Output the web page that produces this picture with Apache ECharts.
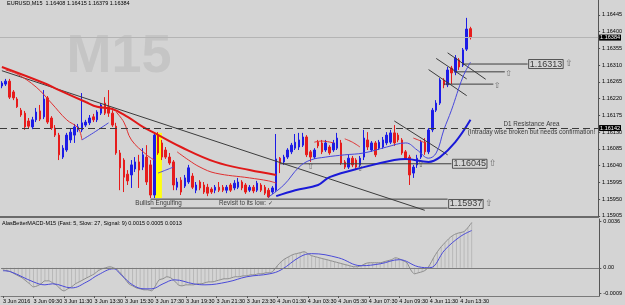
<!DOCTYPE html>
<html><head><meta charset="utf-8">
<script src="https://cdn.jsdelivr.net/npm/echarts@6/dist/echarts.min.js"></script>
<style>html,body{margin:0;padding:0;background:#d4d4d4}#c{width:625px;height:305px}</style>
</head><body><div id="c"></div>
<script>
// ---------- DATA ----------
const barCount = 157; // visible slots incl. right shift
const timeLabels = ["3 Jun 2016","3 Jun 09:30","3 Jun 11:30","3 Jun 13:30","3 Jun 15:30","3 Jun 17:30","3 Jun 19:30","3 Jun 21:30","3 Jun 23:30","4 Jun 01:30","4 Jun 03:30","4 Jun 05:30","4 Jun 07:30","4 Jun 09:30","4 Jun 11:30","4 Jun 13:30"];
const priceTicks = [1.16445,1.16400,1.16355,1.16310,1.16265,1.16220,1.16175,1.16130,1.16085,1.16040,1.15995,1.15950,1.15905];
const macdTickValues = [0.0036, 0, -0.0020];
const macdTickLabels = ["0.0036", "0.00", "-0.0009"];
const headerText = "EURUSD,M15  1.16408 1.16415 1.16379 1.16384";
const macdHeaderText = "AlasBetterMACD-M15 (Fast: 5, Slow: 27, Signal: 9) 0.0015 0.0005 0.0013";
const watermark = "M15";

// [open, close, low, high]
const candles = [
[1.16254,1.16262,1.16248,1.16267],[1.16259,1.16267,1.16254,1.16273],[1.16267,1.16224,1.16219,1.16273],[1.16238,1.16222,1.16216,1.16243],
[1.16219,1.16198,1.16195,1.16224],[1.16189,1.16176,1.16171,1.16195],[1.16181,1.16144,1.16136,1.16187],[1.16160,1.16146,1.16141,1.16168],
[1.16144,1.16163,1.16138,1.16171],[1.16163,1.16184,1.16157,1.16195],[1.16187,1.16165,1.16160,1.16203],[1.16171,1.16219,1.16165,1.16243],
[1.16222,1.16157,1.16152,1.16227],[1.16168,1.16141,1.16136,1.16173],[1.16141,1.16122,1.16117,1.16149],[1.16122,1.16069,1.16055,1.16128],
[1.16063,1.16087,1.16058,1.16095],[1.16082,1.16122,1.16077,1.16128],[1.16109,1.16130,1.16101,1.16141],[1.16122,1.16144,1.16101,1.16152],
[1.16136,1.16144,1.16130,1.16152],[1.16136,1.16155,1.16130,1.16235],[1.16149,1.16157,1.16144,1.16163],[1.16155,1.16168,1.16149,1.16176],
[1.16171,1.16163,1.16157,1.16179],[1.16163,1.16184,1.16157,1.16189],[1.16181,1.16203,1.16176,1.16208],[1.16208,1.16181,1.16176,1.16224],
[1.16198,1.16181,1.16171,1.16243],[1.16181,1.16149,1.16144,1.16189],[1.16146,1.16074,1.16069,1.16155],[1.16074,1.16034,1.15974,1.16082],
[1.16055,1.16009,1.15969,1.16060],[1.16017,1.15999,1.15988,1.16028],[1.16015,1.16042,1.15980,1.16055],[1.16031,1.16050,1.16023,1.16063],
[1.16050,1.16028,1.15980,1.16069],[1.16036,1.16069,1.16028,1.16087],[1.16063,1.15996,1.15988,1.16095],[1.16042,1.15961,1.15953,1.16055],
[1.15961,1.16122,1.15953,1.16128],[1.16122,1.16074,1.16069,1.16130],[1.16101,1.16063,1.16055,1.16109],[1.16082,1.16063,1.16058,1.16090],
[1.16063,1.16047,1.16042,1.16074],[1.16050,1.15988,1.15974,1.16055],[1.15982,1.15996,1.15974,1.16007],[1.16001,1.15969,1.15961,1.16009],
[1.15985,1.16007,1.15980,1.16015],[1.15996,1.16034,1.15991,1.16042],[1.16012,1.15982,1.15977,1.16020],[1.15974,1.15988,1.15966,1.15996],
[1.15996,1.15980,1.15974,1.16001],[1.15988,1.15969,1.15964,1.15996],[1.15982,1.15966,1.15958,1.15991],[1.15977,1.15969,1.15964,1.15982],
[1.15974,1.15982,1.15966,1.15988],[1.15982,1.15974,1.15969,1.15996],[1.15982,1.15974,1.15969,1.15988],[1.15974,1.15982,1.15966,1.15988],
[1.15988,1.15974,1.15969,1.15993],[1.15980,1.15993,1.15974,1.16001],[1.15982,1.15996,1.15977,1.16007],[1.15996,1.15980,1.15974,1.16001],
[1.15988,1.15969,1.15964,1.15993],[1.15974,1.15982,1.15969,1.15988],[1.15982,1.15972,1.15966,1.15988],[1.15974,1.15993,1.15969,1.15999],
[1.15988,1.15974,1.15969,1.15993],[1.15982,1.15966,1.15961,1.15988],[1.15974,1.15956,1.15953,1.15980],[1.15969,1.15980,1.15964,1.15985],
[1.15974,1.16058,1.15969,1.16125],[1.16060,1.16047,1.16020,1.16063],[1.16050,1.16063,1.16042,1.16069],[1.16063,1.16082,1.16058,1.16087],
[1.16077,1.16095,1.16071,1.16101],[1.16087,1.16103,1.16082,1.16125],[1.16090,1.16109,1.16082,1.16128],[1.16095,1.16117,1.16090,1.16128],
[1.16117,1.16069,1.16063,1.16122],[1.16077,1.16063,1.16050,1.16082],[1.16063,1.16082,1.16058,1.16087],[1.16103,1.16093,1.16087,1.16109],
[1.16101,1.16077,1.16071,1.16109],[1.16082,1.16101,1.16077,1.16109],[1.16090,1.16074,1.16069,1.16095],[1.16082,1.16101,1.16077,1.16109],
[1.16087,1.16114,1.16082,1.16128],[1.16101,1.16047,1.16042,1.16109],[1.16050,1.16036,1.16031,1.16055],[1.16036,1.16060,1.16031,1.16069],
[1.16060,1.16042,1.16036,1.16066],[1.16055,1.16036,1.16031,1.16060],[1.16042,1.16060,1.16036,1.16066],[1.16063,1.16114,1.16055,1.16136],
[1.16109,1.16090,1.16082,1.16130],[1.16082,1.16101,1.16077,1.16106],[1.16101,1.16069,1.16063,1.16106],[1.16087,1.16103,1.16082,1.16109],
[1.16090,1.16109,1.16085,1.16117],[1.16101,1.16122,1.16095,1.16130],[1.16103,1.16128,1.16098,1.16136],[1.16128,1.16101,1.16093,1.16149],
[1.16122,1.16109,1.16103,1.16128],[1.16109,1.16074,1.16069,1.16114],[1.16077,1.16060,1.16055,1.16082],[1.16063,1.16015,1.15988,1.16069],
[1.16020,1.16036,1.16007,1.16042],[1.16042,1.16060,1.16034,1.16069],[1.16063,1.16103,1.16058,1.16109],[1.16103,1.16077,1.16069,1.16114],
[1.16077,1.16136,1.16071,1.16141],[1.16136,1.16189,1.16130,1.16195],[1.16189,1.16208,1.16184,1.16216],[1.16208,1.16270,1.16203,1.16275],
[1.16270,1.16257,1.16248,1.16275],[1.16257,1.16297,1.16251,1.16305],[1.16302,1.16289,1.16259,1.16308],[1.16291,1.16329,1.16283,1.16337],
[1.16324,1.16305,1.16297,1.16329],[1.16310,1.16351,1.16305,1.16356],[1.16353,1.16407,1.16348,1.16437],[1.16408,1.16384,1.16379,1.16413]
];

// moving averages: [barIndex, price]
const thickRedMA = [[0,1.16305],[11,1.16262],[15,1.16243],[22,1.16211],[25,1.16198],[29,1.16192],[33,1.16171],[37,1.16144],[40,1.16128],[47,1.16090],[56,1.16050],[65,1.16028],[72,1.16015]];
const thickBlueMA = [[72,1.15958],[77,1.15974],[83,1.15988],[86,1.16009],[95,1.16036],[103,1.16055],[106,1.16058],[112,1.16050],[115,1.16063],[119,1.16103],[123,1.16163]];
const thinRedMA = [
  [[1,1.16297],[4,1.16286],[9,1.16251],[13,1.16208],[17,1.16163],[20,1.16141],[21,1.16109]],
  [[30,1.16184],[32,1.16157],[34,1.16109],[38,1.16069],[40,1.16055]],
  [[46,1.16077],[49,1.16055],[52,1.16036],[56,1.16020],[65,1.16007],[70,1.15999],[72,1.15993]],
  [[82,1.16103],[84,1.16106],[87,1.16101]],
  [[90,1.16112],[92,1.16103],[94,1.16090]],
  [[108,1.16114],[110,1.16106],[111,1.16101]]
];
const thinBlueMA = [
  [[21,1.16109],[24,1.16128],[28,1.16155]],
  [[41,1.16020],[43,1.16028],[45,1.16036]],
  [[70,1.15956],[74,1.15988],[78,1.16036],[81,1.16055],[85,1.16063],[90,1.16069],[95,1.16074],[101,1.16090],[106,1.16101],[109,1.16082],[112,1.16060],[114,1.16074],[116,1.16136],[118,1.16189],[121,1.16278],[123,1.16318]]
];

// drawn trend lines: [[bar, price],[bar, price]]
const trendLines = [
  [[0,1.16295],[111,1.15920]],
  [[103,1.16160],[117,1.16069]],
  [[112,1.16298],[122,1.16228]],
  [[114,1.16328],[122,1.16273]],
  [[117,1.16343],[127,1.16272]]
];
// horizontal support lines: [startBar, endBar, price]
const levelLines = [
  [121,138,1.16313],
  [119,132,1.16292],
  [116,129,1.16259],
  [73,118,1.16045],
  [39,117,1.15950],
  [39,117,1.15926]
];
const levelBoxes = [ [138,1.16313,"1.16313"], [118,1.16045,"1.16045"], [117,1.15937,"1.15937"] ];
const upArrows = [ [133,1.16286], [130,1.16254], [81,1.16036], [94,1.16031], [110,1.16042] ];
const notes = [
  [35,1.15940,"Bullish Engulfing","right"],
  [57,1.15940,"Revisit to its low: \u2713","right"],
  [139,1.16152,"D1 Resistance Area","inside"],
  [139,1.16130,"(Intraday wise broken but needs confirmation!","inside"]
];
const engulfZone = [[39.7,1.16128],[42,1.15953]];
const currentPrice = 1.16384;
const d1Level = 1.16141;
const d1LevelText = "1.16142";

// MACD main (gray line & histogram), per bar
const macdMain = [-0.00016,-0.00023,-0.00031,-0.00047,-0.00063,-0.00078,-0.00102,-0.00125,-0.00149,-0.00141,-0.00125,-0.00102,-0.00102,-0.00117,-0.00133,-0.00164,-0.00180,-0.00164,-0.00149,-0.00125,-0.00110,-0.00094,-0.00078,-0.00063,-0.00047,-0.00023,-0.00008,0.00000,0.00008,0.00000,-0.00016,-0.00047,-0.00086,-0.00125,-0.00141,-0.00157,-0.00164,-0.00172,-0.00172,-0.00180,-0.00141,-0.00094,-0.00086,-0.00070,-0.00078,-0.00102,-0.00133,-0.00141,-0.00133,-0.00133,-0.00133,-0.00125,-0.00125,-0.00117,-0.00110,-0.00110,-0.00102,-0.00094,-0.00086,-0.00086,-0.00078,-0.00070,-0.00070,-0.00063,-0.00063,-0.00055,-0.00055,-0.00047,-0.00047,-0.00039,-0.00039,-0.00023,0.00016,0.00047,0.00070,0.00086,0.00102,0.00110,0.00117,0.00125,0.00110,0.00094,0.00086,0.00078,0.00070,0.00063,0.00055,0.00047,0.00039,0.00031,0.00023,0.00016,0.00008,0.00008,0.00016,0.00031,0.00039,0.00039,0.00039,0.00039,0.00047,0.00055,0.00063,0.00078,0.00070,0.00055,0.00039,-0.00016,-0.00047,-0.00039,-0.00031,-0.00016,0.00023,0.00078,0.00125,0.00164,0.00196,0.00227,0.00251,0.00266,0.00274,0.00282,0.00313,0.00352];
const macdSignal = [[0,-0.00023],[2,-0.00031],[8,-0.00110],[11,-0.00133],[13,-0.00125],[18,-0.00157],[22,-0.00110],[25,-0.00055],[29,-0.00008],[31,-0.00055],[34,-0.00133],[37,-0.00164],[39,-0.00164],[42,-0.00125],[45,-0.00094],[50,-0.00125],[53,-0.00133],[59,-0.00110],[64,-0.00070],[70,-0.00047],[73,-0.00016],[78,0.00086],[81,0.00110],[88,0.00078],[94,0.00016],[99,0.00031],[104,0.00063],[109,0.00008],[112,0.00000],[116,0.00141],[120,0.00243],[123,0.00290]];

// ---------- CHART ----------
const FONT = "'Liberation Sans',Arial,sans-serif";
const cats = Array.from({length: barCount}, (_, i) => String(i));
const chart = echarts.init(document.getElementById('c'), null, {renderer: 'canvas'});

const lineSeries = (data, color, width, smooth, extra) => Object.assign({
  type: 'line', xAxisIndex: 0, yAxisIndex: 0, data: data, symbol: 'none', smooth: smooth,
  silent: true, lineStyle: {color: color, width: width}, z: 3
}, extra || {});

const axisBox = (txt) => ({show: true, position: 'end', distance: 1, formatter: txt, backgroundColor: '#000', color: '#fff', fontSize: 5.5, padding: [0, 1], fontFamily: FONT});

const series = [];
// price reference lines (current price and D1 level) on a carrier line series
series.push({
  type: 'line', xAxisIndex: 0, yAxisIndex: 0, data: [], symbol: 'none', silent: true, z: 1,
  markLine: {silent: true, symbol: ['none', 'none'], precision: 6, animation: false, data: [
    {yAxis: currentPrice, lineStyle: {color: '#b4b4b4', type: 'solid', width: 1}, label: axisBox(currentPrice.toFixed(5))},
    {yAxis: d1Level, lineStyle: {color: '#3a3a3a', type: [7, 4], width: 1}, label: axisBox(d1LevelText)}
  ]},
  markArea: {silent: true, precision: 6, itemStyle: {color: '#ffff10', opacity: 1},
    data: [[{xAxis: engulfZone[0][0], yAxis: engulfZone[0][1]}, {xAxis: engulfZone[1][0], yAxis: engulfZone[1][1]}]]}
});
series.push({
  type: 'candlestick', xAxisIndex: 0, yAxisIndex: 0, data: candles, barWidth: 2, silent: true,
  itemStyle: {color: '#1c1ce6', color0: '#e61c1c', borderColor: '#1c1ce6', borderColor0: '#e61c1c', borderWidth: 1},
  z: 2
});
trendLines.forEach(l => series.push(lineSeries(l, '#3c3c3c', 1, false)));
levelLines.forEach(l => series.push(lineSeries([[l[0], l[2]], [l[1], l[2]]], '#3c3c3c', 1, false)));
series.push(lineSeries(thickRedMA, '#e01818', 2, 0.4));
series.push(lineSeries(thickBlueMA, '#1a1ad8', 2, 0.4));
thinRedMA.forEach(s => series.push(lineSeries(s, '#e03030', 1, 0.4)));
thinBlueMA.forEach(s => series.push(lineSeries(s, '#4848dc', 1, 0.4)));

// boxes, arrows, notes
series.push({
  type: 'scatter', xAxisIndex: 0, yAxisIndex: 0, symbolSize: 0, silent: true, z: 5,
  data: levelBoxes.map(b => ({value: [b[0], b[1]], label: {show: true, position: 'right', distance: 1,
    formatter: '{b|' + b[2] + '}{a|\u21e7}',
    rich: {b: {fontSize: 9, lineHeight: 9, color: '#111', borderColor: '#333', borderWidth: 1, padding: [0, 1, 0, 1], fontFamily: FONT},
           a: {fontSize: 9, lineHeight: 9, color: '#555', padding: [0, 0, 0, 2], fontFamily: 'DejaVu Sans'}}}}))
    .concat(upArrows.map(a => ({value: a, label: {show: true, position: 'inside', formatter: '\u21e7', fontSize: 8, color: '#555', fontFamily: 'DejaVu Sans'}})))
    .concat(notes.map(n => ({value: [n[0], n[1]], label: {show: true, position: n[3], distance: 0, formatter: n[2], fontSize: 6.3, color: '#111', fontFamily: FONT}})))
});

// MACD
series.push({type: 'bar', xAxisIndex: 1, yAxisIndex: 1, data: macdMain, barWidth: 1, silent: true,
  itemStyle: {color: '#b8b8b8'},
  markLine: {silent: true, symbol: ['none', 'none'], label: {show: false}, data: [{yAxis: 0, lineStyle: {color: '#7a7a7a', type: 'solid', width: 1}}]}});
series.push({type: 'line', xAxisIndex: 1, yAxisIndex: 1, data: macdMain, symbol: 'none', smooth: 0.3, silent: true, lineStyle: {color: '#8e8e8e', width: 1}});
series.push({type: 'line', xAxisIndex: 1, yAxisIndex: 1, data: macdSignal, symbol: 'none', smooth: 0.4, silent: true, lineStyle: {color: '#4a4ad8', width: 1}});

const option = {
  animation: false,
  backgroundColor: '#d4d4d4',
  textStyle: {fontFamily: FONT},
  title: [
    {text: headerText, left: 7, top: 0, padding: 0, textStyle: {fontSize: 5.5, fontWeight: 'normal', color: '#000', fontFamily: FONT}},
    {text: macdHeaderText, left: 2, top: 220, padding: 0, textStyle: {fontSize: 5.5, fontWeight: 'normal', color: '#000', fontFamily: FONT}}
  ],
  graphic: [{type: 'text', x: 119, y: 57, z: -10, silent: true,
    style: {text: watermark, fontSize: 54, fontWeight: 'bold', fill: '#c5c5c5', align: 'center', verticalAlign: 'middle', fontFamily: 'Liberation Sans, Arial'}}],
  grid: [
    {left: 0, right: 21, top: 0, height: 217},
    {left: 0, right: 21, top: 219, height: 77}
  ],
  xAxis: [
    {type: 'category', gridIndex: 0, data: cats, boundaryGap: true,
     axisLine: {show: true, onZero: false, lineStyle: {color: '#6a6a6a', width: 2}}, axisTick: {show: false}, axisLabel: {show: false}, splitLine: {show: false}},
    {type: 'category', gridIndex: 1, data: cats, boundaryGap: true,
     axisLine: {show: true, onZero: false, lineStyle: {color: '#7a7a7a', width: 1}},
     axisTick: {show: true, alignWithLabel: true, length: 2, interval: (i) => i % 8 === 0 && i < candles.length, lineStyle: {color: '#555'}},
     axisLabel: {show: true, interval: (i) => i % 8 === 0 && i < candles.length, align: 'left', margin: 2, fontSize: 5.5, color: '#000',
       formatter: (v, idx) => timeLabels[Math.round(idx / 8)] || ''},
     splitLine: {show: false}}
  ],
  yAxis: [
    {type: 'value', gridIndex: 0, position: 'right', min: 1.15902, max: 1.16485,
     axisLine: {show: true, lineStyle: {color: '#555', width: 1}},
     axisTick: {show: true, customValues: priceTicks, length: 2, lineStyle: {color: '#555'}},
     axisLabel: {show: true, customValues: priceTicks, formatter: v => v.toFixed(5), fontSize: 5.5, color: '#000', margin: 4},
     splitLine: {show: false}},
    {type: 'value', gridIndex: 1, position: 'right', min: -0.0022, max: 0.0038,
     axisLine: {show: true, lineStyle: {color: '#555', width: 1}},
     axisTick: {show: true, customValues: macdTickValues, length: 2, lineStyle: {color: '#555'}},
     axisLabel: {show: true, customValues: macdTickValues, formatter: v => macdTickLabels[macdTickValues.indexOf(v)] || '', fontSize: 5.5, color: '#000', margin: 4},
     splitLine: {show: false}}
  ],
  series: series
};
chart.setOption(option);
</script></body></html>
